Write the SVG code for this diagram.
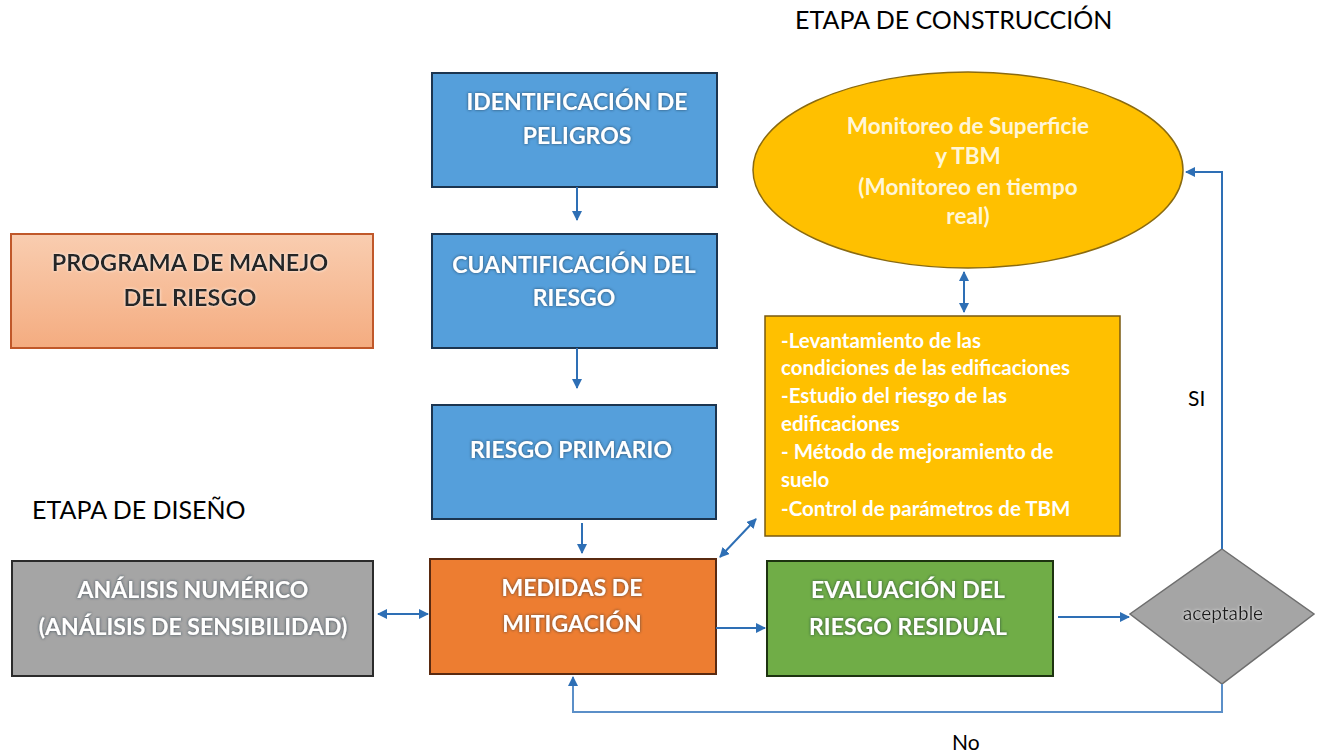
<svg xmlns="http://www.w3.org/2000/svg" width="1319" height="753" viewBox="0 0 1319 753">
<defs>
<style>
.lbl{font-family:Lato,"Open Sans","Liberation Sans",sans-serif;fill:#000;font-size:25px}
.w{font-family:Lato,"Open Sans","Liberation Sans",sans-serif;fill:#fff;font-weight:bold;font-size:23px;text-anchor:middle}
.d{font-family:Lato,"Open Sans","Liberation Sans",sans-serif;fill:#262626;font-weight:bold;font-size:23.5px;text-anchor:middle}
.e{font-family:Lato,"Open Sans","Liberation Sans",sans-serif;fill:#fff6d8;font-weight:bold;font-size:22.5px;text-anchor:middle}
.y{font-family:Lato,"Open Sans","Liberation Sans",sans-serif;fill:#fff;font-weight:bold;font-size:20.5px}
.blue{fill:#559fdb;stroke:#1c3550;stroke-width:2}
.con{fill:none;stroke:#2e6fb5;stroke-width:2}
</style>
<filter id="glow" x="-10%" y="-30%" width="120%" height="160%">
<feGaussianBlur in="SourceAlpha" stdDeviation="1.6" result="b"/>
<feFlood flood-color="#1a2a3a" flood-opacity="0.75"/>
<feComposite in2="b" operator="in" result="s"/>
<feMerge><feMergeNode in="s"/><feMergeNode in="SourceGraphic"/></feMerge>
</filter>
<filter id="glowL" x="-10%" y="-30%" width="120%" height="160%">
<feGaussianBlur in="SourceAlpha" stdDeviation="1.6" result="b"/>
<feFlood flood-color="#ffffff" flood-opacity="0.8"/>
<feComposite in2="b" operator="in" result="s"/>
<feMerge><feMergeNode in="s"/><feMergeNode in="SourceGraphic"/></feMerge>
</filter>
<linearGradient id="pg" x1="0" y1="0" x2="0" y2="1">
<stop offset="0" stop-color="#f9cdb0"/>
<stop offset="1" stop-color="#f4ac80"/>
</linearGradient>
<marker id="ah" viewBox="0 0 10 10" refX="9" refY="5" markerWidth="5" markerHeight="5" orient="auto-start-reverse">
<path d="M0,0 L10,5 L0,10 z" fill="#2e6fb5"/>
</marker>
</defs>

<text class="lbl" x="795" y="29">ETAPA DE CONSTRUCCIÓN</text>
<text class="lbl" x="32" y="519">ETAPA DE DISEÑO</text>
<text class="lbl" x="1188" y="406" style="font-size:21px">SI</text>
<text class="lbl" x="952" y="750" style="font-size:21px">No</text>

<g id="identificacion">
<rect class="blue" x="432" y="73" width="285" height="114"/>
<text class="w" filter="url(#glow)" x="577" y="110">IDENTIFICACIÓN DE</text>
<text class="w" filter="url(#glow)" x="577" y="144">PELIGROS</text>
</g>
<g id="cuantificacion">
<rect class="blue" x="432" y="234" width="285" height="114"/>
<text class="w" filter="url(#glow)" x="574" y="273">CUANTIFICACIÓN DEL</text>
<text class="w" filter="url(#glow)" x="574" y="306">RIESGO</text>
</g>
<g id="riesgo-primario">
<rect class="blue" x="432" y="405" width="284" height="114"/>
<text class="w" filter="url(#glow)" x="571" y="458">RIESGO PRIMARIO</text>
</g>
<g id="medidas">
<rect x="430" y="559" width="286" height="115" fill="#ed7d31" stroke="#5a2a10" stroke-width="2"/>
<text class="w" filter="url(#glow)" x="572" y="596">MEDIDAS DE</text>
<text class="w" filter="url(#glow)" x="572" y="632">MITIGACIÓN</text>
</g>
<g id="analisis">
<rect x="12" y="561" width="361" height="115" fill="#a5a5a5" stroke="#2b2b2b" stroke-width="2"/>
<text class="w" filter="url(#glow)" x="193" y="598">ANÁLISIS NUMÉRICO</text>
<text class="w" filter="url(#glow)" x="193" y="635">(ANÁLISIS DE SENSIBILIDAD)</text>
</g>
<g id="programa">
<rect x="11" y="234" width="362" height="114" fill="url(#pg)" stroke="#c0582a" stroke-width="2"/>
<text class="d" filter="url(#glowL)" x="190" y="271">PROGRAMA DE MANEJO</text>
<text class="d" filter="url(#glowL)" x="190" y="306">DEL RIESGO</text>
</g>
<g id="evaluacion">
<rect x="767" y="561" width="286" height="115" fill="#70ad47" stroke="#1d3310" stroke-width="2"/>
<text class="w" filter="url(#glow)" x="908" y="598">EVALUACIÓN DEL</text>
<text class="w" filter="url(#glow)" x="908" y="635">RIESGO RESIDUAL</text>
</g>
<g id="aceptable">
<polygon points="1222,549 1314,614 1222,684 1130,614" fill="#a5a5a5" stroke="#6e6e6e" stroke-width="1.5"/>
<text x="1223" y="620" text-anchor="middle" filter="url(#glowL)" style="font-family:Lato,'Open Sans','Liberation Sans',sans-serif;font-size:19px;fill:#1a1a1a">aceptable</text>
</g>
<g id="monitoreo">
<ellipse cx="968" cy="170" rx="215" ry="98" fill="#ffc000" stroke="#8a6a10" stroke-width="1.5"/>
<text class="e" x="968" y="134">Monitoreo de Superficie</text>
<text class="e" x="968" y="164">y TBM</text>
<text class="e" x="968" y="195">(Monitoreo en tiempo</text>
<text class="e" x="968" y="224">real)</text>
</g>
<g id="acciones">
<rect x="765" y="316" width="355" height="220" fill="#ffc000" stroke="#7a5a10" stroke-width="1.5"/>
<text class="y" x="781" y="348">-Levantamiento de las</text>
<text class="y" x="781" y="375">condiciones de las edificaciones</text>
<text class="y" x="781" y="403">-Estudio del riesgo de las</text>
<text class="y" x="781" y="431">edificaciones</text>
<text class="y" x="781" y="459">- Método de mejoramiento de</text>
<text class="y" x="781" y="487">suelo</text>
<text class="y" x="781" y="516">-Control de parámetros de TBM</text>
</g>

<g id="connectors">
<line class="con" x1="577" y1="187" x2="577" y2="220" marker-end="url(#ah)"/>
<line class="con" x1="577" y1="348" x2="577" y2="388" marker-end="url(#ah)"/>
<line class="con" x1="582" y1="523" x2="582" y2="553" marker-end="url(#ah)"/>
<line class="con" x1="378" y1="614" x2="428" y2="614" marker-start="url(#ah)" marker-end="url(#ah)"/>
<line class="con" x1="716" y1="628" x2="765" y2="628" marker-end="url(#ah)"/>
<line class="con" x1="1058" y1="617" x2="1129" y2="617" marker-end="url(#ah)"/>
<line class="con" x1="720" y1="557" x2="756" y2="519" marker-start="url(#ah)" marker-end="url(#ah)"/>
<line class="con" x1="964" y1="272" x2="964" y2="312" marker-start="url(#ah)" marker-end="url(#ah)"/>
<polyline class="con" points="1222,549 1222,172 1186,172" marker-end="url(#ah)"/>
<polyline class="con" points="1222,684 1222,712 573,712 573,677" style="stroke:#5b8fc8" marker-end="url(#ah)"/>
</g>
</svg>
